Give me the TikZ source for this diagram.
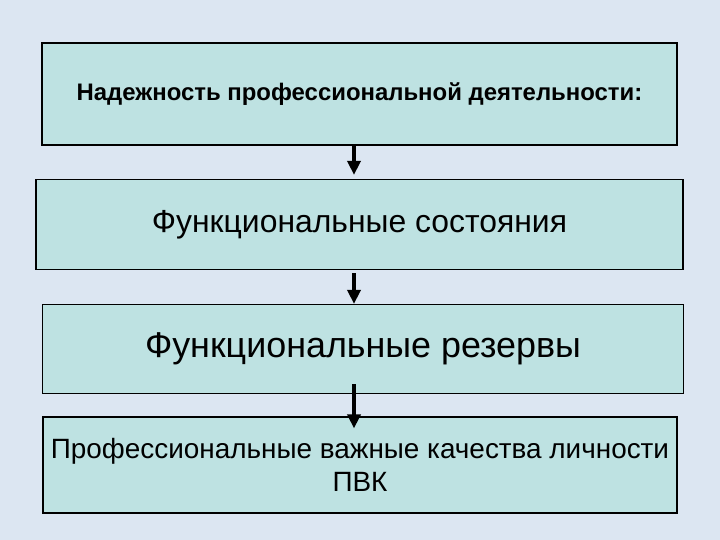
\documentclass[tikz,border=0pt]{standalone}
\usepackage{fontspec}
\setmainfont{Liberation Sans}
\usepackage{tikz}
\usetikzlibrary{arrows.meta,positioning,calc}
\definecolor{bgblue}{HTML}{DCE6F2}
\definecolor{boxteal}{HTML}{BEE2E2}

\begin{document}
\begin{tikzpicture}[x=1bp, y=-1bp,
    box/.style={draw=black, fill=boxteal, line width=1.2bp, inner sep=0pt, align=center},
    flowarrow/.style={-{Triangle[width=13bp,length=14bp]}, line width=4.5bp, black}
]
    % Background
    \fill[bgblue] (0,0) rectangle (720,540);
    \useasboundingbox (0,0) rectangle (720,540);

    % Title box
    \node[box, minimum width=635bp, minimum height=102bp, font=\fontsize{24}{29}\selectfont\bfseries] (reliab) at (359.5,94) {Надежность профессиональной деятельности:};

    % Middle boxes
    \node[box, minimum width=647bp, minimum height=90bp, font=\fontsize{32}{38}\selectfont] (states) at (359.5,224.5) {Функциональные состояния};
    \node[box, minimum width=641bp, minimum height=89bp, font=\fontsize{36}{43}\selectfont] (reserves) at (363,349) {Функциональные резервы};

    % Bottom box
    \node[box, minimum width=634bp, minimum height=96bp, font=\fontsize{28}{33}\selectfont] (pvk) at (360,465) {Профессиональные важные качества личности\\ПВК};

    % Arrows
    \coordinate (axis) at (354,0);
    \draw[flowarrow] (reliab.south -| axis) -- ([yshift=4bp]states.north -| axis);
    \draw[flowarrow] ([yshift=-3bp]states.south -| axis) -- (reserves.north -| axis);
    \draw[flowarrow] ([yshift=10bp]reserves.south -| axis) -- ([yshift=-12bp]pvk.north -| axis);
\end{tikzpicture}
\end{document}
